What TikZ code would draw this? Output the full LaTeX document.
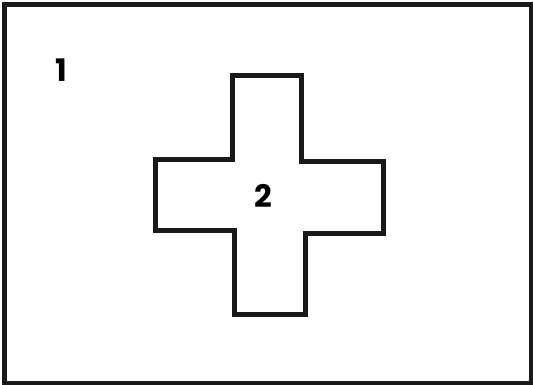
\documentclass[tikz,border=0pt]{standalone}
\usepackage{fontspec}
\setmainfont{Poppins}
\begin{document}
\begin{tikzpicture}[x=1pt,y=-1pt,
  outline/.style={draw=black!90,line width=5pt,line join=miter},
  lbl/.style={font=\fontsize{31}{31}\selectfont\bfseries,inner sep=0pt}]
\useasboundingbox (0,0) rectangle (533,385);
\node[outline,minimum width=526.5pt,minimum height=378.5pt,inner sep=0pt] (outer) at (267.75,193.75) {};
\draw[outline] (232.5,76) coordinate (c1) -- (301,76) -- (301,162) -- (383.5,162) -- (383.5,233)
  -- (305.5,233) -- (305.5,314.5) -- (234.5,314.5) -- (234.5,230) -- (155,230)
  -- (155,160) -- (232.5,160) -- cycle;
\node[lbl] (n1) at (61,70) {1};
\node[lbl] (n2) at (263,196) {2};
\end{tikzpicture}
\end{document}
